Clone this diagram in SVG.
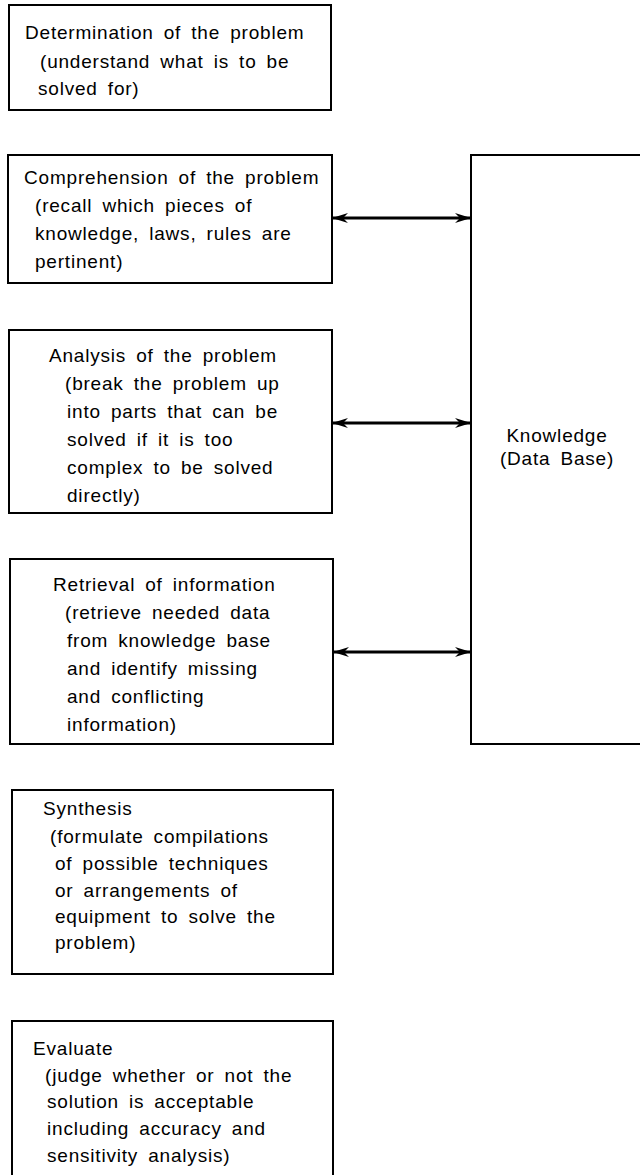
<svg xmlns="http://www.w3.org/2000/svg" width="640" height="1175" viewBox="0 0 640 1175">
<style>
.box{fill:#fff;stroke:#000;stroke-width:2}
text{font-family:"Liberation Sans",Arial,sans-serif;font-size:19px;fill:#000;letter-spacing:0.8px;word-spacing:4px}
.conn{stroke:#000;stroke-width:3;fill:none}
</style>
<defs>
<marker id="ah" viewBox="0 0 16 10" refX="15" refY="5" markerWidth="16" markerHeight="10" markerUnits="userSpaceOnUse" orient="auto-start-reverse">
<path d="M0,0 L16,5 L0,10 L5,5 Z" fill="#000"/>
</marker>
</defs>
<rect width="640" height="1175" fill="#fff"/>
<g id="n1">
<rect class="box" x="9" y="5" width="322" height="105"/>
<text x="25" y="39">Determination of the problem</text>
<text x="40" y="68">(understand what is to be</text>
<text x="38" y="95">solved for)</text>
</g>
<g id="n2">
<rect class="box" x="8" y="155" width="324" height="128"/>
<text x="24" y="184">Comprehension of the problem</text>
<text x="35" y="212">(recall which pieces of</text>
<text x="35" y="240">knowledge, laws, rules are</text>
<text x="35" y="268">pertinent)</text>
</g>
<g id="n3">
<rect class="box" x="9" y="330" width="323" height="183"/>
<text x="49" y="362">Analysis of the problem</text>
<text x="65" y="390">(break the problem up</text>
<text x="67" y="418">into parts that can be</text>
<text x="67" y="446">solved if it is too</text>
<text x="67" y="474">complex to be solved</text>
<text x="67" y="502">directly)</text>
</g>
<g id="n4">
<rect class="box" x="10" y="559" width="323" height="185"/>
<text x="53" y="591">Retrieval of information</text>
<text x="65" y="619">(retrieve needed data</text>
<text x="67" y="647">from knowledge base</text>
<text x="67" y="675">and identify missing</text>
<text x="67" y="703">and conflicting</text>
<text x="67" y="731">information)</text>
</g>
<g id="n5">
<rect class="box" x="12" y="790" width="321" height="184"/>
<text x="43" y="815">Synthesis</text>
<text x="50" y="843">(formulate compilations</text>
<text x="55" y="870">of possible techniques</text>
<text x="55" y="897">or arrangements of</text>
<text x="55" y="923">equipment to solve the</text>
<text x="55" y="949">problem)</text>
</g>
<g id="n6">
<rect class="box" x="12" y="1021" width="321" height="170"/>
<text x="33" y="1055">Evaluate</text>
<text x="45" y="1082">(judge whether or not the</text>
<text x="47" y="1108">solution is acceptable</text>
<text x="47" y="1135">including accuracy and</text>
<text x="47" y="1162">sensitivity analysis)</text>
</g>
<g id="n7">
<rect class="box" x="471" y="155" width="180" height="589"/>
<text x="557" y="442" text-anchor="middle">Knowledge</text>
<text x="557" y="465" text-anchor="middle">(Data Base)</text>
</g>
<g id="connectors">
<line class="conn" x1="333" y1="218" x2="470" y2="218" marker-start="url(#ah)" marker-end="url(#ah)"/>
<line class="conn" x1="333" y1="423" x2="470" y2="423" marker-start="url(#ah)" marker-end="url(#ah)"/>
<line class="conn" x1="334" y1="652" x2="470" y2="652" marker-start="url(#ah)" marker-end="url(#ah)"/>
</g>
</svg>
